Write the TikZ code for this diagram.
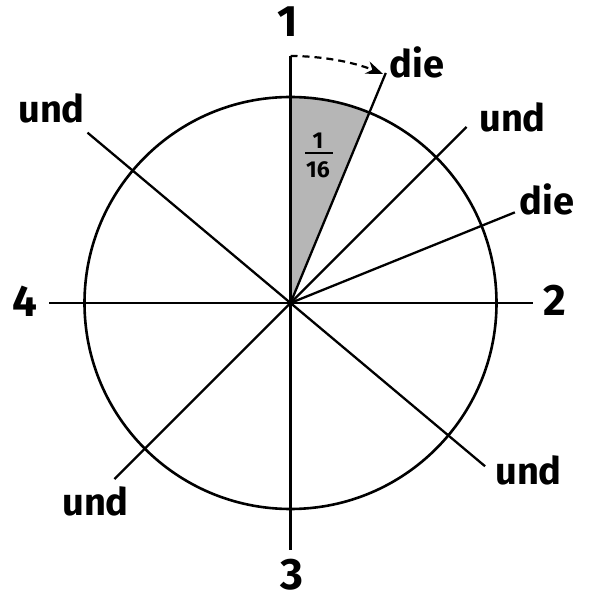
\documentclass[tikz,border=0pt]{standalone}
\usepackage{fontspec}
\setmainfont{Fira Sans}
\usetikzlibrary{arrows.meta}
\definecolor{sectorgray}{RGB}{182,182,182}
\begin{document}
\begin{tikzpicture}[x=1pt,y=1pt,
    spoke/.style={line width=2.3pt,black},
    rim/.style={line width=2.6pt,black},
    word/.style={font=\fontsize{38}{40}\selectfont\bfseries,anchor=base,inner sep=0pt},
    digit/.style={font=\fontsize{44}{46}\selectfont\bfseries,anchor=base,inner sep=0pt},
    frac/.style={font=\fontsize{23}{25}\selectfont\bfseries,inner sep=0pt},
    turn/.style={-{Stealth[length=17pt,width=13pt]},line width=2.2pt,dash pattern=on 7pt off 5pt}]
  \useasboundingbox (-290.5,-293) rectangle (297.5,303);
  \coordinate (O) at (0,0);
  % one sixteenth of the disc
  \fill[sectorgray] (O) -- (90:206) arc[start angle=90,end angle=67.5,radius=206] -- cycle;
  \draw[rim] (O) circle[radius=206];
  % ends of the spokes
  \coordinate (n)  at (90:247);
  \coordinate (s)  at (-90:247);
  \coordinate (w)  at (180:241);
  \coordinate (e)  at (0:242);
  \coordinate (ne) at (45:249);
  \coordinate (sw) at (225:249);
  \coordinate (nw) at (140:265);
  \coordinate (se) at (-40:254);
  \coordinate (d1) at (67.5:249);
  \coordinate (d2) at (22:242);
  \draw[spoke] (n) -- (s);
  \draw[spoke] (w) -- (e);
  \draw[spoke] (sw) -- (ne);
  \draw[spoke] (nw) -- (se);
  \draw[spoke] (O) -- (d1);
  \draw[spoke] (O) -- (d2);
  \draw[turn] (n) arc[start angle=90,end angle=68,radius=247];
  % labels
  \node[digit] (one)   at (-2.5,266) {1};
  \node[digit] (two)   at (264.5,-13) {2};
  \node[digit] (three) at (1.5,-286) {3};
  \node[digit] (four)  at (-265.5,-14) {4};
  \node[word] (die1)  at (126.5,225) {die};
  \node[word] (die2)  at (256.5,88) {die};
  \node[word] (und1)  at (-239,180) {und};
  \node[word] (und2)  at (222,171) {und};
  \node[word] (und3)  at (-195,-212) {und};
  \node[word] (und4)  at (238,-181) {und};
  % the fraction 1/16
  \node[frac] (num) at (27.5,162) {1};
  \node[frac] (den) at (27.5,133) {16};
  \draw[line width=1.6pt] (14.5,150) -- (42.5,150);
\end{tikzpicture}
\end{document}
